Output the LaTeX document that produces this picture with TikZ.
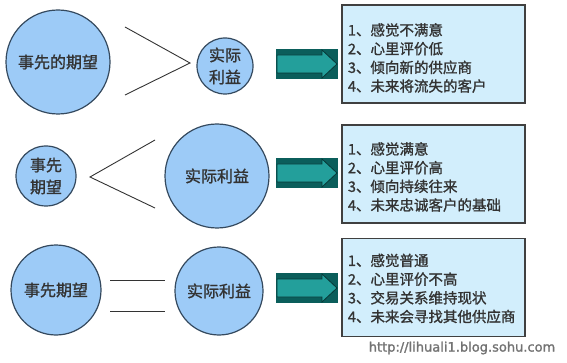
\documentclass[tikz,border=0pt]{standalone}
\usepackage{fontspec}
\setmainfont{Noto Sans CJK SC}[FakeBold=1.2]
\newfontfamily\webfont{DejaVu Sans}[FakeBold=1.5]
\usetikzlibrary{positioning}
\definecolor{ballblue}{HTML}{9DCBF7}
\definecolor{ballline}{HTML}{34495E}
\definecolor{boxcyan}{HTML}{D2EEFC}
\definecolor{arrowdark}{HTML}{0B5E5B}
\definecolor{arrowlight}{HTML}{239F9B}
\tikzset{
  ball/.style={circle,draw=ballline,fill=ballblue,line width=1.2pt,inner sep=0pt,
    align=center,text=black!80,font=\fontsize{16}{22}\selectfont},
  listbox/.style={draw=black!75,fill=boxcyan,line width=1.2pt,inner sep=0pt,
    minimum width=183,minimum height=98},
  listtext/.style={anchor=west,align=left,text=black!80,font=\fontsize{14.5}{18.7}\selectfont},
  relline/.style={black!80,line width=0.9pt}
}

\begin{document}
\begin{tikzpicture}[x=1pt,y=-1pt]
  \useasboundingbox (0,0) rectangle (567,363);
  % expectation vs. gain
  \node[ball,minimum size=104] (expect1) at (58,62) {事先的期望};
  \node[ball,minimum size=56] (gain1) at (225,66) {实际\\利益};
  \node[ball,minimum size=60] (expect2) at (46,176) {事先\\期望};
  \node[ball,minimum size=104] (gain2) at (217,176) {实际利益};
  \node[ball,minimum size=90] (expect3) at (56,290) {事先期望};
  \node[ball,minimum size=88] (gain3) at (219,291) {实际利益};
  % relation signs
  \draw[relline] (125,27) -- (190,63) -- (125,95);
  \draw[relline] (155,140) -- (90,177) -- (155,208);
  \draw[relline] (110,280) -- (165,280);
  \draw[relline] (110,311) -- (165,311);
  % block arrows
  \foreach \yy in {64,173,288}{
    \fill[arrowdark] (276,\yy-15) rectangle (338,\yy+15);
    \draw[arrowdark!60!black,fill=arrowlight,line width=0.8pt]
      (277,\yy-9) -- (322,\yy-9) -- (322,\yy-14) -- (337,\yy)
      -- (322,\yy+14) -- (322,\yy+9) -- (277,\yy+9) -- cycle;
  }
  % result lists
  \node[listbox] (list1) at (433.5,54) {};
  \node[listbox] (list2) at (433.5,174) {};
  \node[listbox] (list3) at (433.5,287.5) {};
  \node[listtext] at ([xshift=3pt,yshift=-4pt]list1.west)
    {1、感觉不满意\\2、心里评价低\\3、倾向新的供应商\\4、未来将流失的客户};
  \node[listtext] at ([xshift=3pt,yshift=-3pt]list2.west)
    {1、感觉满意\\2、心里评价高\\3、倾向持续往来\\4、未来忠诚客户的基础};
  \node[listtext] at ([xshift=3pt,yshift=-1pt]list3.west)
    {1、感觉普通\\2、心里评价不高\\3、交易关系维持现状\\4、未来会寻找其他供应商};
  \node[font=\webfont\fontsize{13}{15}\selectfont,text=black!55] (site) at (462,348)
    {http://lihuali1.blog.sohu.com};
\end{tikzpicture}
\end{document}
